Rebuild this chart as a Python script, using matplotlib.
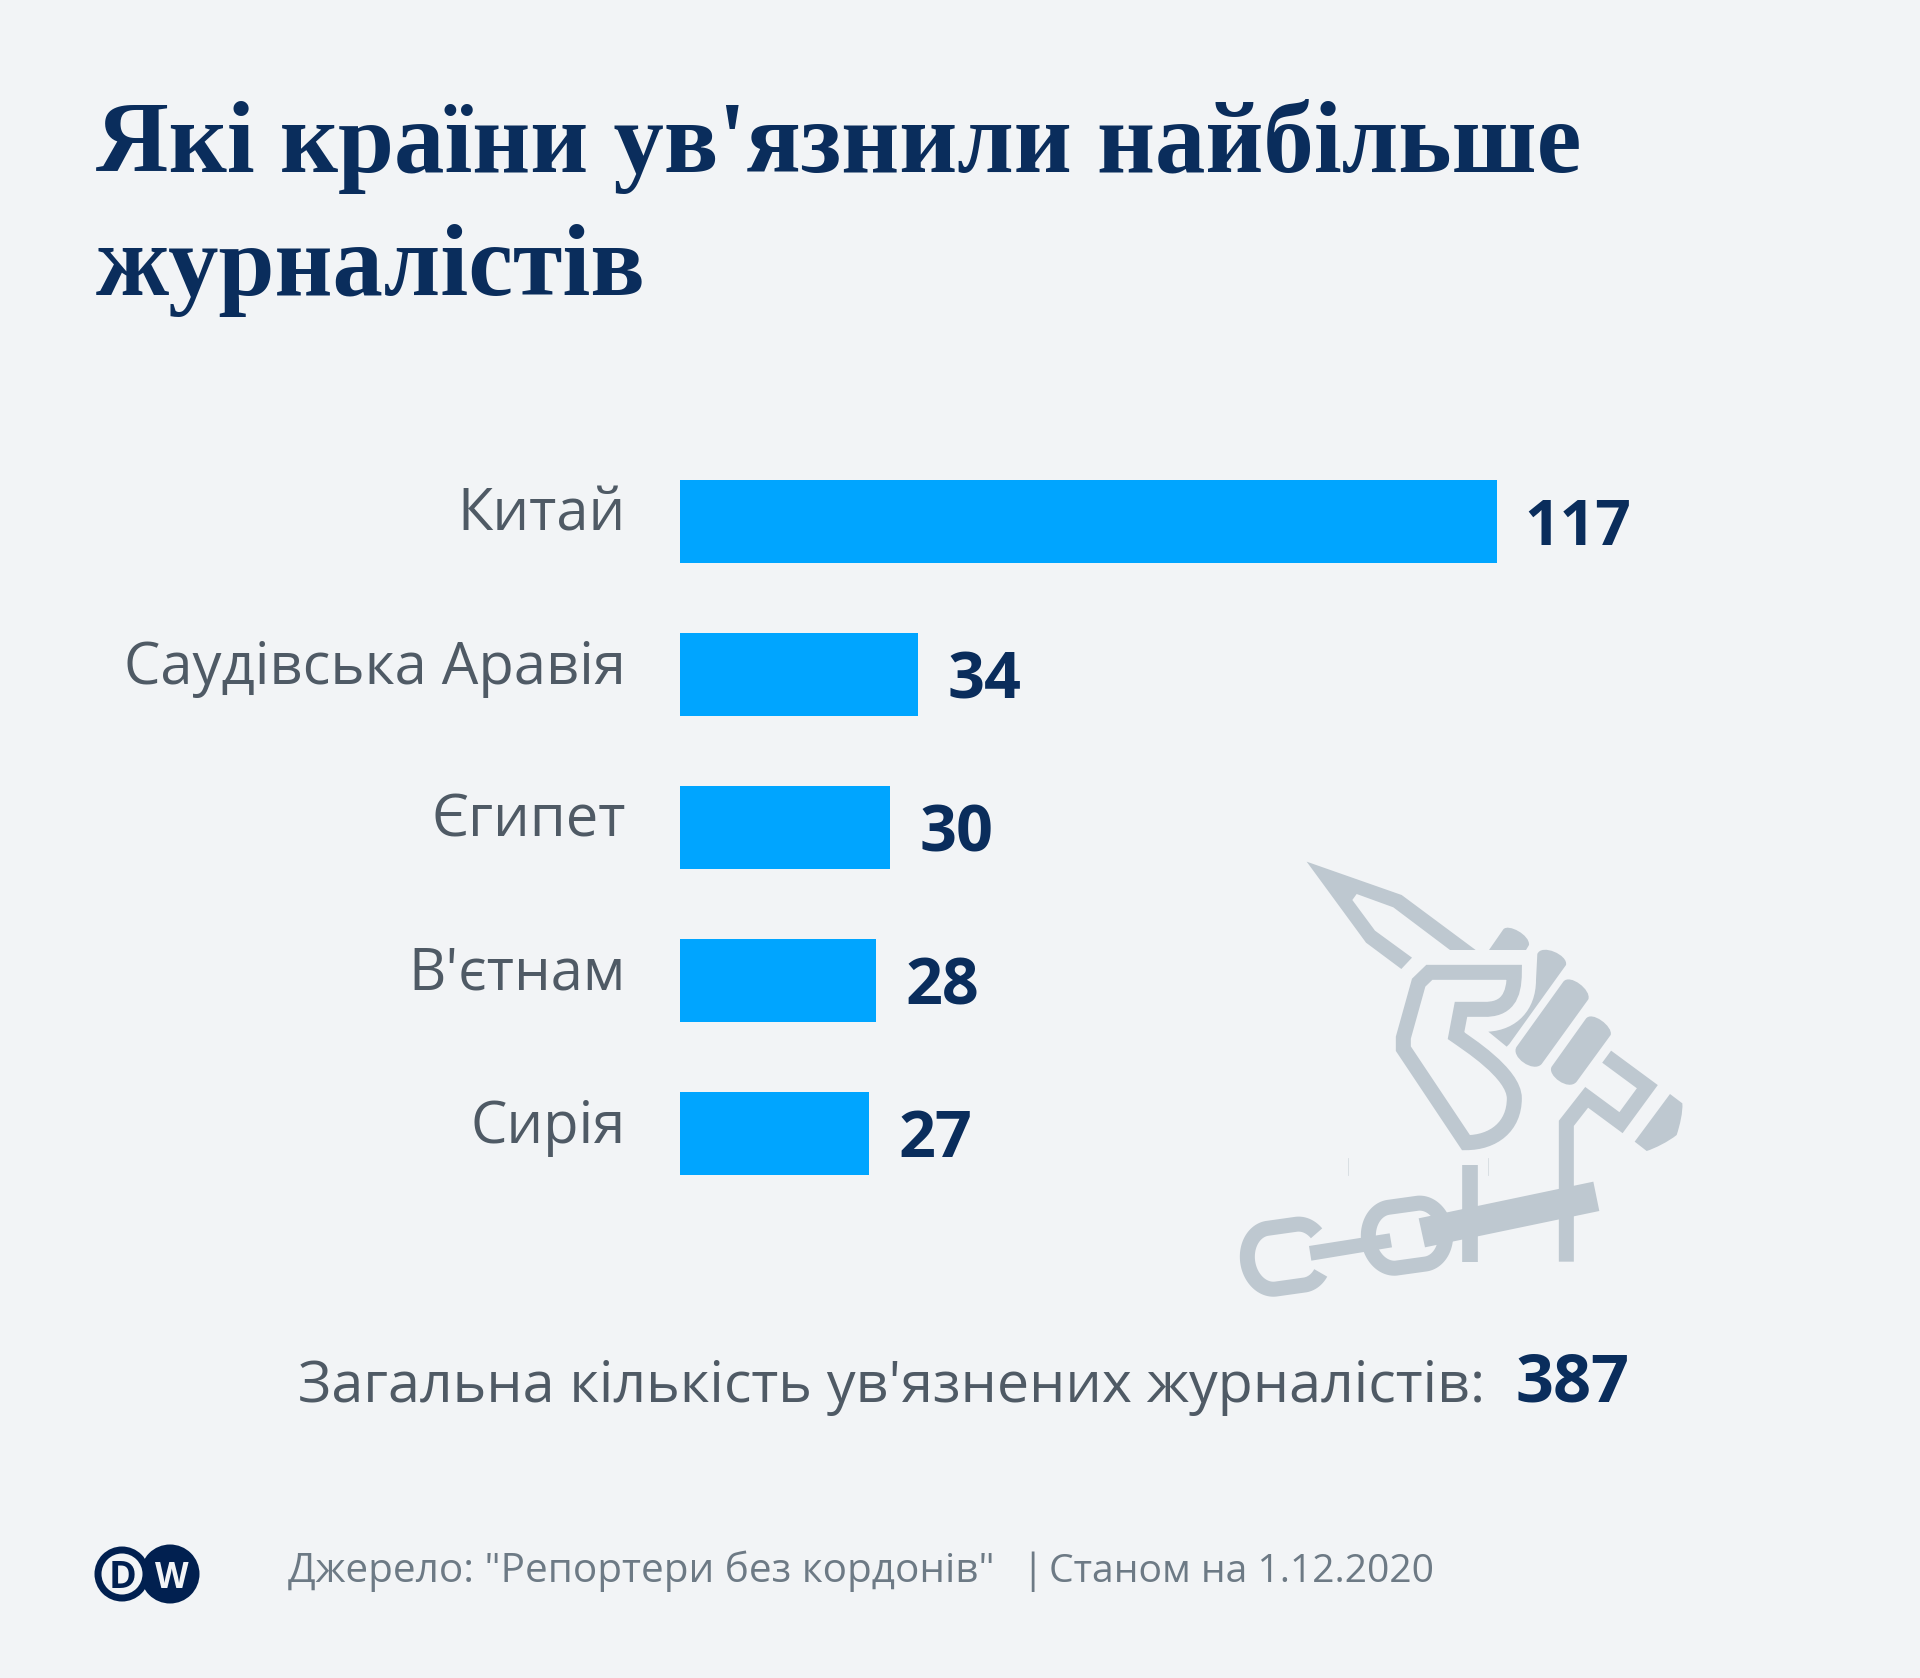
import numpy as np
import matplotlib
matplotlib.use("Agg")
import matplotlib.pyplot as plt
from matplotlib.path import Path
from matplotlib.patches import PathPatch, Circle

countries = ["Китай", "Саудівська Аравія", "Єгипет", "В'єтнам", "Сирія"]
values = [117, 34, 30, 28, 27]
total_label = "Загальна кількість ув'язнених журналістів:"
total_value = "387"
title_lines = ["Які країни ув'язнили найбільше", "журналістів"]
source_text = 'Джерело: "Репортери без кордонів"'
date_text = "Станом на 1.12.2020"

BG = "#f2f4f6"
BAR = "#00a5ff"
NAVY = "#0a2d5c"
LOGO = "#012050"
GREY = "#4f5a65"
FOOT = "#6d7a85"
ICON = "#bec8d0"
W, H = 1920, 1678
PX = 0.72  # points per pixel at dpi 100

fig = plt.figure(figsize=(W / 100, H / 100), dpi=100, facecolor=BG)

# overlay in pixel coordinates for text and the icon
ov = fig.add_axes([0, 0, 1, 1])
ov.set_xlim(0, W)
ov.set_ylim(H, 0)
ov.axis("off")

# bars
x0, top, bottom = 680, 445, 1210
ax = fig.add_axes([x0 / W, 1 - bottom / H, (W - x0) / W, (bottom - top) / H])
ax.patch.set_alpha(0)
ax.set_xlim(0, (W - x0) / 6.987)
ax.set_ylim(4.5, -0.5)
ax.axis("off")
ypos = np.arange(len(countries))
ax.barh(ypos, values, height=0.536, color=BAR)
SANS = "Open Sans"
for y, c, v in zip(ypos, countries, values):
    ax.annotate(c, (0, y), xytext=(-54 * PX, 6 * PX), textcoords="offset points",
                ha="right", va="center", fontsize=41.7, color=GREY, family=SANS)
    ax.annotate(str(v), (v, y), xytext=(30 * PX if v < 100 else 27 * PX, -7 * PX), textcoords="offset points",
                ha="left", va="center", fontsize=46.5 if v < 100 else 45, color=NAVY, family=SANS, weight="bold")

# title
for line, yb in zip(title_lines, [172, 295]):
    ov.text(96, yb, line, fontsize=72.5, color=NAVY, family="Liberation Serif",
            weight="bold", va="baseline", ha="left")

# total and source
ov.text(1485, 1402, total_label, fontsize=41.3, color=GREY, family=SANS, ha="right", va="baseline")
ov.text(1516, 1401, total_value, fontsize=48, color=NAVY, family=SANS, weight="bold", ha="left", va="baseline")
ov.text(288, 1582, source_text, fontsize=29.2, color=FOOT, family=SANS, ha="left", va="baseline")
ov.text(1021, 1582, "|", fontsize=29.2, color=FOOT, family=SANS, ha="left", va="baseline")
ov.text(1049, 1582, date_text, fontsize=28.2, color=FOOT, family=SANS, ha="left", va="baseline")

# DW logo
ov.add_patch(Circle((170, 1574), 29.5, fc=LOGO, ec="none"))
ov.add_patch(Circle((122, 1574), 27.5, fc=LOGO, ec="none"))
ov.add_patch(Circle((122, 1574), 20.5, fc=BG, ec="none"))
ov.text(122, 1574, "D", fontsize=27, color=LOGO, family=SANS, weight="bold", ha="center", va="center_baseline")
ov.text(172, 1574, "W", fontsize=25, color=BG, family=SANS, weight="bold", ha="center", va="center_baseline")

# icon, in coordinates of the 3x crop at (1200, 840)
def T(p):
    p = np.asarray(p, float)
    return p / 3 + np.array([1200, 840])

def curve_path(spec, close=True):
    verts, codes = [], []
    for seg in spec:
        if len(seg) == 1:
            verts.append(seg[0]); codes.append(Path.MOVETO if not verts[:-1] else Path.LINETO)
        else:
            verts.extend(seg); codes.extend([Path.CURVE4] * 3)
    if close:
        verts.append(verts[0]); codes.append(Path.CLOSEPOLY)
    return Path(T(verts), codes)

def fill(spec):
    ov.add_patch(PathPatch(curve_path(spec), fc=ICON, ec="none"))

def stroke(spec, w, close=False):
    ov.add_patch(PathPatch(curve_path(spec, close), fc="none", ec=ICON, lw=w / 3 * PX,
                           joinstyle="miter", capstyle="butt"))

# pen nib
fill([[p] for p in [(320, 65), (605, 165), (827, 330), (750, 330), (580, 202), (470, 162),
                    (457, 180), (525, 272), (636, 353), (604, 387), (498, 308)]])
# fingers
fill([[(867, 330)], [(910, 268)], [(925, 250), (990, 285), (987, 315)], [(978, 330)]])
fill([[(1012, 342)], [(1025, 310), (1105, 345), (1098, 375)], [(928, 612)], [(920, 620)], [(865, 575)],
      [(950, 570), (1008, 510), (1008, 420)]])
fill([[(1090, 425)], [(1110, 400), (1175, 450), (1165, 478)], [(1025, 672)],
      [(1000, 700), (930, 650), (950, 620)]])
fill([[(1157, 537)], [(1175, 510), (1240, 560), (1232, 585)], [(1130, 725)],
      [(1105, 755), (1040, 705), (1055, 680)]])
# thumb outline
stroke([[(943, 397)], [(688, 397)], [(656, 428)], [(610, 593)], [(610, 626)], [(798, 908)],
        [(880, 908), (943, 860), (943, 775)], [(943, 700), (800, 610), (768, 587)], [(783, 508)], [(850, 508)],
        [(920, 510), (943, 470), (943, 397)]], 45, close=True)
# wrist and sleeve
stroke([[p] for p in [(1099, 1265), (1099, 850), (1160, 772), (1263, 848), (1342, 740), (1220, 650)]], 45)
stroke([[(810, 975)], [(810, 1265)]], 47)
fill([[(1410, 762)], [(1447, 790)], [(1449, 815), (1440, 855), (1430, 885)], [(1405, 905), (1365, 925), (1340, 933)], [(1304, 905)]])

def link(cx, cy, hs, rx, ry, a0=0, a1=360):
    t = np.radians(np.arange(a0, a1 + 1, 3))
    x = rx * np.cos(t) + np.where(np.cos(t) >= 0, hs, -hs)
    y = ry * np.sin(t)
    a = np.radians(-8)
    return np.c_[cx + x * np.cos(a) - y * np.sin(a), cy + x * np.sin(a) + y * np.cos(a)]

def polyline(pts, w):
    ov.plot(*T(pts).T, color=ICON, lw=w / 3 * PX, solid_capstyle="butt", solid_joinstyle="round")

polyline(link(621, 1187, 43, 73, 92), 45)
polyline(link(258, 1250, 43, 73, 92, 43, 322), 45)
fill([[p] for p in [(327, 1218), (569, 1180), (576, 1222), (334, 1262)]])
fill([[p] for p in [(656, 1135), (1180, 1025), (1198, 1113), (675, 1222)]])
for xl in (445, 865):
    ov.plot(*T([(xl, 955), (xl, 1005)]).T, color="#d5dbe0", lw=0.6)

fig.savefig("out.png", dpi=100, facecolor=BG)
